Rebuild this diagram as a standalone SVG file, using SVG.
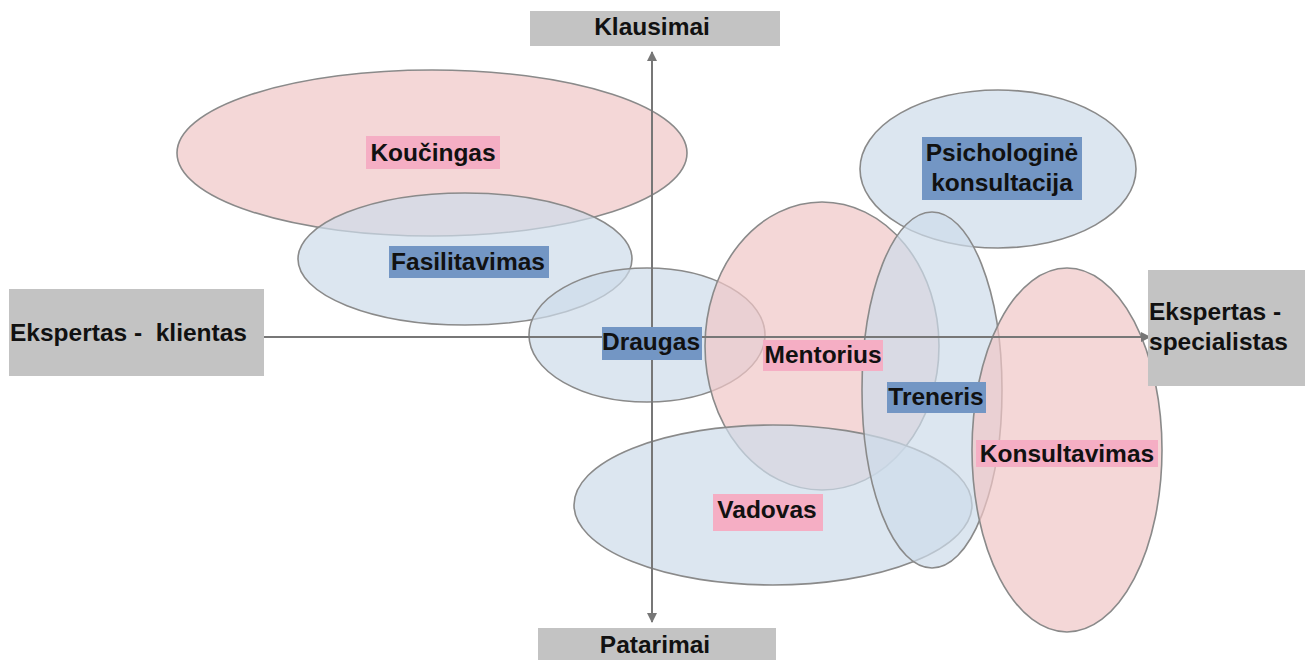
<svg xmlns="http://www.w3.org/2000/svg" width="1312" height="660" viewBox="0 0 1312 660">
<style>
.pk{fill:#f0c6c6;fill-opacity:0.7;stroke:#8a8a8a;stroke-width:1.6}
.bl{fill:#cddbea;fill-opacity:0.7;stroke:#8a8a8a;stroke-width:1.6}
.ax{stroke:#777;stroke-width:2;fill:none}
.gb{fill:#c3c3c3}
.lp{fill:#f5aec4}
.lb{fill:#7396c4}
text{font-family:"Liberation Sans",Arial,sans-serif;font-weight:bold;font-size:24.5px;fill:#111;white-space:pre}
</style>
<defs>
<marker id="ah" viewBox="0 0 10 10" refX="9" refY="5" markerWidth="5" markerHeight="5" orient="auto-start-reverse">
<path d="M0,0 L10,5 L0,10 z" fill="#777"/>
</marker>
</defs>
<rect width="1312" height="660" fill="#fff"/>
<g id="ellipses">
<ellipse id="e-koucingas" class="pk" cx="432" cy="153" rx="255" ry="83"/>
<ellipse id="e-fasilitavimas" class="bl" cx="465" cy="259" rx="167" ry="66"/>
<ellipse id="e-psich" class="bl" cx="998" cy="169" rx="138" ry="79"/>
<ellipse id="e-draugas" class="bl" cx="647" cy="335" rx="118" ry="67"/>
<ellipse id="e-mentorius" class="pk" cx="822" cy="346" rx="117" ry="144"/>
<ellipse id="e-vadovas" class="bl" cx="773" cy="505" rx="199" ry="80"/>
<ellipse id="e-treneris" class="bl" cx="932" cy="390" rx="70" ry="178"/>
<ellipse id="e-konsultavimas" class="pk" cx="1067" cy="450" rx="95" ry="182"/>
</g>
<g id="connectors">
<line class="ax" x1="652" y1="335" x2="652" y2="52" marker-end="url(#ah)"/>
<line class="ax" x1="652" y1="340" x2="652" y2="622" marker-end="url(#ah)"/>
<line class="ax" x1="264" y1="337" x2="1150" y2="337" marker-end="url(#ah)"/>
</g>
<g id="klausimai"><rect class="gb" x="530" y="11" width="250" height="35"/><text x="652" y="35" text-anchor="middle">Klausimai</text></g>
<g id="patarimai"><rect class="gb" x="538" y="628" width="238" height="32"/><text x="655" y="653" text-anchor="middle">Patarimai</text></g>
<g id="ekspertas-klientas"><rect class="gb" x="9" y="289" width="255" height="87"/><text x="10" y="341">Ekspertas -  klientas</text></g>
<g id="ekspertas-specialistas"><rect class="gb" x="1148" y="270" width="157" height="116"/><text x="1149" y="320">Ekspertas -</text><text x="1149" y="350">specialistas</text></g>
<g id="koucingas"><rect class="lp" x="366" y="136" width="134" height="33"/><text x="433" y="161" text-anchor="middle">Koučingas</text></g>
<g id="fasilitavimas"><rect class="lb" x="389" y="246" width="160" height="32"/><text x="468" y="270" text-anchor="middle">Fasilitavimas</text></g>
<g id="draugas"><rect class="lb" x="602" y="327" width="100" height="33"/><text x="651" y="350" text-anchor="middle">Draugas</text></g>
<g id="mentorius"><rect class="lp" x="763" y="340" width="120" height="31"/><text x="823" y="363" text-anchor="middle">Mentorius</text></g>
<g id="treneris"><rect class="lb" x="887" y="382" width="99" height="31"/><text x="936" y="405" text-anchor="middle">Treneris</text></g>
<g id="konsultavimas"><rect class="lp" x="976" y="440" width="182" height="27"/><text x="1067" y="462" text-anchor="middle">Konsultavimas</text></g>
<g id="vadovas"><rect class="lp" x="713" y="494" width="110" height="37"/><text x="767" y="518" text-anchor="middle">Vadovas</text></g>
<g id="psichologine"><rect class="lb" x="922" y="137" width="160" height="63"/><text x="1002" y="161" text-anchor="middle">Psichologinė</text><text x="1002" y="191" text-anchor="middle">konsultacija</text></g>
</svg>
